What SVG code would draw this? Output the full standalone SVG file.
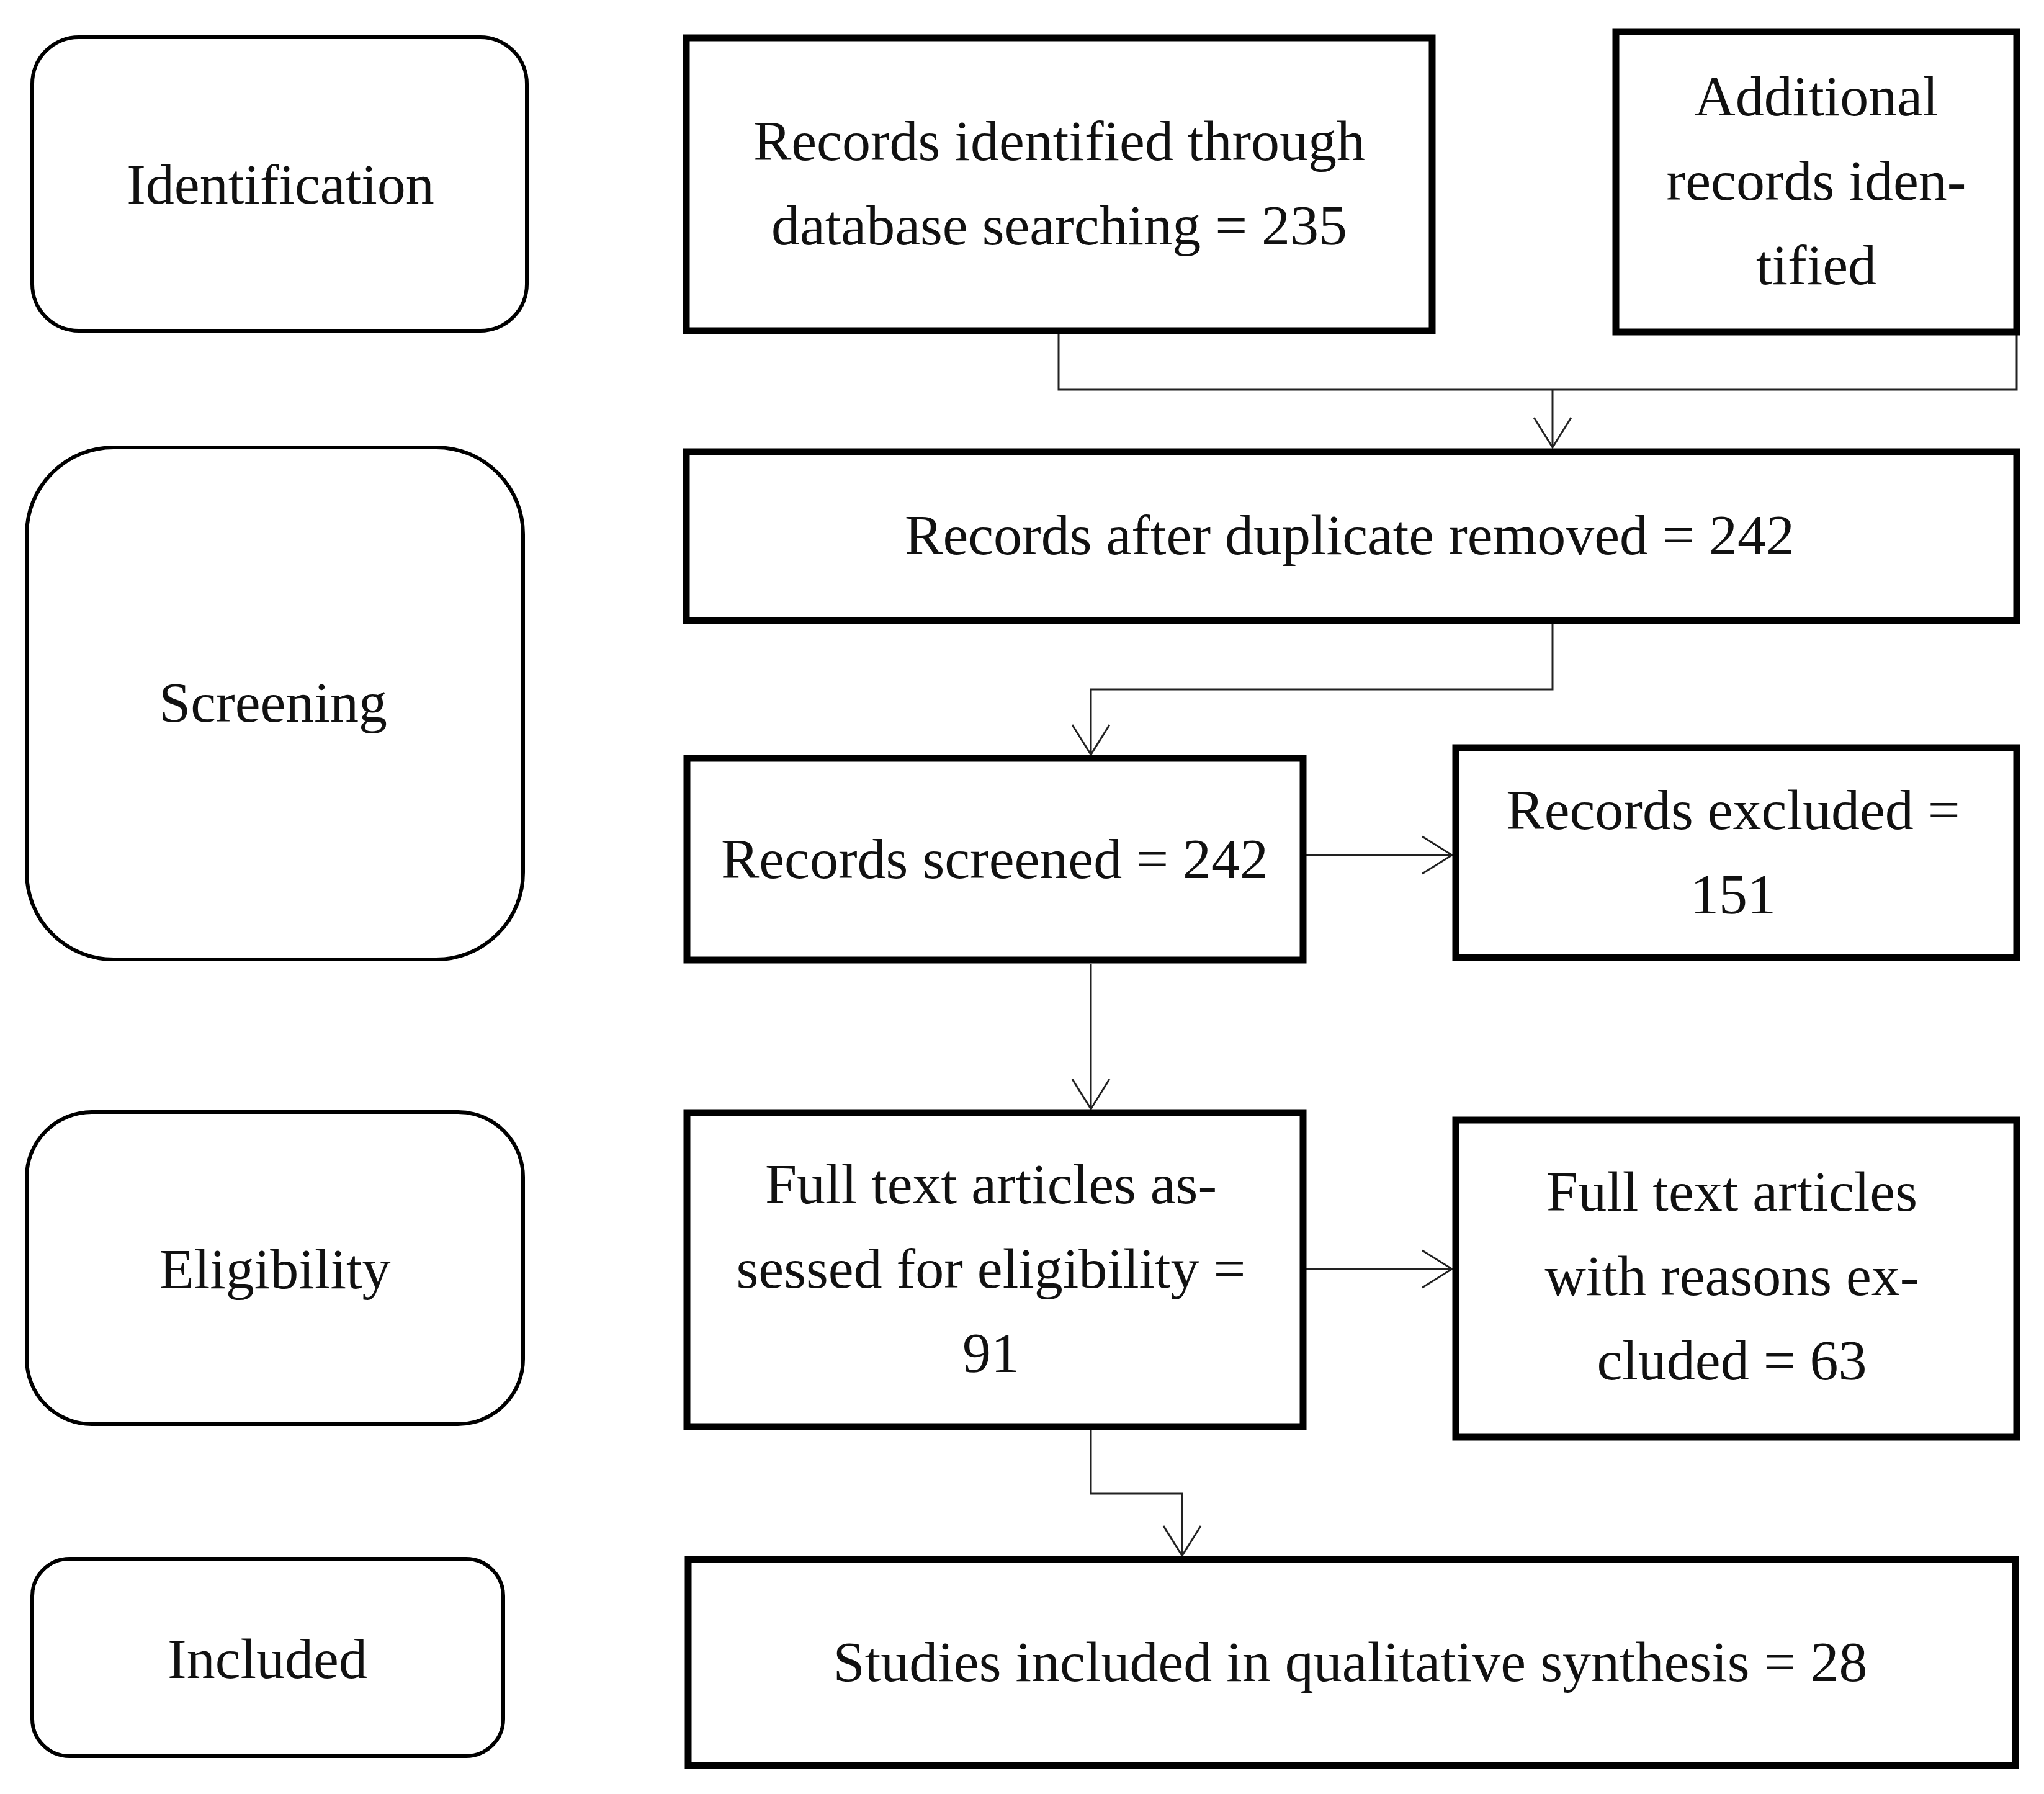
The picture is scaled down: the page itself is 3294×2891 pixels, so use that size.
<svg xmlns="http://www.w3.org/2000/svg" width="3294" height="2891" viewBox="0 0 3294 2891">
<style>
.box{fill:#fff;stroke:#000;stroke-width:11}
.stage{fill:#fff;stroke:#000;stroke-width:6}
.t{font-family:"Liberation Serif","Times New Roman",serif;font-size:92px;fill:#111;text-anchor:middle}
.c{fill:none;stroke:#222;stroke-width:3}
</style>
<defs>
<marker id="arr" markerUnits="userSpaceOnUse" viewBox="0 0 52 64" refX="50" refY="32" markerWidth="52" markerHeight="64" orient="auto">
<path d="M2,2 L50,32 L2,62" fill="none" stroke="#222" stroke-width="3"/>
</marker>
</defs>
<rect width="3294" height="2891" fill="#fff"/>
<g id="connectors">
<path class="c" d="M1706,539 V628 H3250 V540"/>
<path class="c" d="M2502,628 V721" marker-end="url(#arr)"/>
<path class="c" d="M2502,1006 V1111 H1758 V1216" marker-end="url(#arr)"/>
<path class="c" d="M2105,1378 H2340" marker-end="url(#arr)"/>
<path class="c" d="M1758,1553 V1787" marker-end="url(#arr)"/>
<path class="c" d="M2105,2045 H2340" marker-end="url(#arr)"/>
<path class="c" d="M1758,2305 V2407 H1905 V2507" marker-end="url(#arr)"/>
</g>
<g id="stage-identification">
<rect class="stage" x="52" y="60" width="797" height="473" rx="75"/>
<text class="t" x="452" y="328">Identification</text>
</g>
<g id="stage-screening">
<rect class="stage" x="43" y="721" width="800" height="825" rx="140"/>
<text class="t" x="440" y="1163">Screening</text>
</g>
<g id="stage-eligibility">
<rect class="stage" x="43" y="1792" width="800" height="503" rx="105"/>
<text class="t" x="443" y="2076">Eligibility</text>
</g>
<g id="stage-included">
<rect class="stage" x="52" y="2512" width="759" height="318" rx="60"/>
<text class="t" x="431" y="2704">Included</text>
</g>
<g id="records-identified">
<rect class="box" x="1106" y="61" width="1202" height="472"/>
<text class="t" x="1707" y="258">Records identified through</text>
<text class="t" x="1707" y="394">database searching = 235</text>
</g>
<g id="additional-records">
<rect class="box" x="2604" y="51" width="646" height="484"/>
<text class="t" x="2927" y="186">Additional</text>
<text class="t" x="2927" y="322">records iden-</text>
<text class="t" x="2927" y="458">tified</text>
</g>
<g id="after-duplicates">
<rect class="box" x="1106" y="728" width="2144" height="272"/>
<text class="t" x="2175" y="893">Records after duplicate removed = 242</text>
</g>
<g id="records-screened">
<rect class="box" x="1107" y="1222" width="993" height="325"/>
<text class="t" x="1603" y="1415">Records screened = 242</text>
</g>
<g id="records-excluded">
<rect class="box" x="2346" y="1205" width="904" height="338"/>
<text class="t" x="2793" y="1336">Records excluded =</text>
<text class="t" x="2793" y="1472">151</text>
</g>
<g id="fulltext-assessed">
<rect class="box" x="1107" y="1793" width="993" height="506"/>
<text class="t" x="1597" y="1939">Full text articles as-</text>
<text class="t" x="1597" y="2075">sessed for eligibility =</text>
<text class="t" x="1597" y="2211">91</text>
</g>
<g id="fulltext-excluded">
<rect class="box" x="2346" y="1805" width="904" height="511"/>
<text class="t" x="2791" y="1951">Full text articles</text>
<text class="t" x="2791" y="2087">with reasons ex-</text>
<text class="t" x="2791" y="2223">cluded = 63</text>
</g>
<g id="studies-included">
<rect class="box" x="1109" y="2513" width="2139" height="332"/>
<text class="t" x="2176" y="2709">Studies included in qualitative synthesis = 28</text>
</g>
</svg>
